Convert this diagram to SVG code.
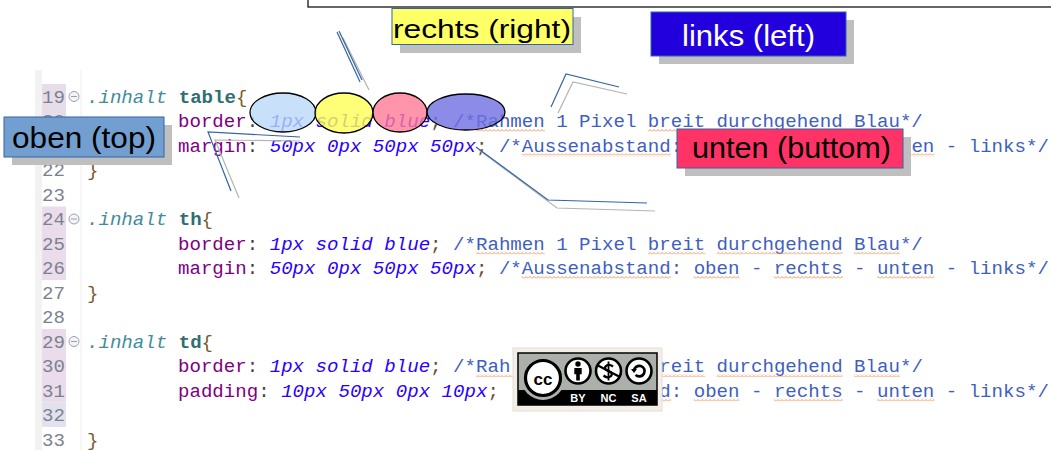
<svg xmlns="http://www.w3.org/2000/svg" width="1051" height="450" viewBox="0 0 1051 450">
<style>
.code{font-family:"Liberation Mono","DejaVu Sans Mono",monospace;font-size:19.1px}
.ln{fill:#7a8290;text-anchor:end}
.sel{fill:#3f8c9c;font-style:italic}
.tag{fill:#2f6f6f;font-weight:bold}
.br{fill:#7a5a2a}
.prop{fill:#7f007f}
.col{fill:#4a3a4a}
.val{fill:#2a00ff;font-style:italic}
.semi{fill:#6b4a2b}
.cmt{fill:#3f5fbf}
.sq{fill:url(#squig)}
.fold{fill:#f4f4f8;stroke:#9aa0b0;stroke-width:1}
.lbl{font-family:"Liberation Sans",Arial,sans-serif}
.shadow{fill:#bfbfbf}
.box{stroke:#3465a4;stroke-width:1}
.ell{stroke:#000;stroke-width:1.3;fill-opacity:0.8}
.cb{stroke:#3465a4;stroke-width:1.2;fill:none}
.cg{stroke:#b4b4b4;stroke-width:1.2;fill:none}
.ico{fill:#fff;stroke:#000;stroke-width:2.6}
.cct{font-family:"Liberation Sans",Arial,sans-serif;font-weight:bold;fill:#fff;font-size:11px;text-anchor:middle}
</style>
<defs>
<pattern id="squig" x="0" y="0" width="4" height="3" patternUnits="userSpaceOnUse">
<path d="M0 2.5 L2 0.5 L4 2.5" fill="none" stroke="#f08a4b" stroke-width="0.9"/>
</pattern>
</defs>
<rect x="0" y="0" width="1051" height="450" fill="#fff"/>

<g id="editor">
<rect x="35" y="70" width="7" height="380" fill="#f2f2f2"/>
<line x1="81" y1="70" x2="81" y2="450" stroke="#eeeeee" stroke-width="1"/>
<rect x="42" y="84" width="24" height="73.5" fill="#e6dcea"/>
<rect x="42" y="206.5" width="24" height="73.5" fill="#eadcea"/>
<rect x="42" y="329" width="24" height="73.5" fill="#eadcea"/>
<rect x="42" y="402.5" width="24" height="24.5" fill="#e2e2ee"/>
<g class="code ln">
<text x="65" y="102.5">19</text>
<text x="65" y="127">20</text>
<text x="65" y="176">22</text>
<text x="65" y="200.5">23</text>
<text x="65" y="225">24</text>
<text x="65" y="249.5">25</text>
<text x="65" y="274">26</text>
<text x="65" y="298.5">27</text>
<text x="65" y="323">28</text>
<text x="65" y="347.5">29</text>
<text x="65" y="372">30</text>
<text x="65" y="396.5">31</text>
<text x="65" y="421">32</text>
<text x="65" y="445.5">33</text>
</g>
<g>
<circle class="fold" cx="74" cy="96.5" r="5"/><line x1="71" y1="96.5" x2="77" y2="96.5" stroke="#9aa0b0"/>
<circle class="fold" cx="74" cy="219" r="5"/><line x1="71" y1="219" x2="77" y2="219" stroke="#9aa0b0"/>
<circle class="fold" cx="74" cy="341.5" r="5"/><line x1="71" y1="341.5" x2="77" y2="341.5" stroke="#9aa0b0"/>
</g>
<g class="code" xml:space="preserve">
<text x="87" y="102.5"><tspan class="sel">.inhalt</tspan> <tspan class="tag">table</tspan><tspan class="br">{</tspan></text>
<text x="178" y="127"><tspan class="prop">border</tspan><tspan class="col">:</tspan> <tspan class="val">1px solid blue</tspan><tspan class="semi">;</tspan> <tspan class="cmt">/*Rahmen 1 Pixel breit durchgehend Blau*/</tspan></text>
<text x="178" y="151.5"><tspan class="prop">margin</tspan><tspan class="col">:</tspan> <tspan class="val">50px 0px 50px 50px</tspan><tspan class="semi">;</tspan> <tspan class="cmt">/*Aussenabstand:</tspan></text>
<text x="911.4" y="151.5" class="cmt">en - links*/</text>
<text x="87" y="176" class="br">}</text>
<text x="87" y="225"><tspan class="sel">.inhalt</tspan> <tspan class="tag">th</tspan><tspan class="br">{</tspan></text>
<text x="178" y="249.5"><tspan class="prop">border</tspan><tspan class="col">:</tspan> <tspan class="val">1px solid blue</tspan><tspan class="semi">;</tspan> <tspan class="cmt">/*Rahmen 1 Pixel breit durchgehend Blau*/</tspan></text>
<text x="178" y="274"><tspan class="prop">margin</tspan><tspan class="col">:</tspan> <tspan class="val">50px 0px 50px 50px</tspan><tspan class="semi">;</tspan> <tspan class="cmt">/*Aussenabstand: oben - rechts - unten - links*/</tspan></text>
<text x="87" y="298.5" class="br">}</text>
<text x="87" y="347.5"><tspan class="sel">.inhalt</tspan> <tspan class="tag">td</tspan><tspan class="br">{</tspan></text>
<text x="178" y="372"><tspan class="prop">border</tspan><tspan class="col">:</tspan> <tspan class="val">1px solid blue</tspan><tspan class="semi">;</tspan> <tspan class="cmt">/*Rah</tspan></text>
<text x="659.3" y="372" class="cmt">reit durchgehend Blau*/</text>
<text x="178" y="396.5"><tspan class="prop">padding</tspan><tspan class="col">:</tspan> <tspan class="val">10px 50px 0px 10px</tspan><tspan class="semi">;</tspan></text>
<text x="659.3" y="396.5" class="cmt">d: oben - rechts - unten - links*/</text>
<text x="87" y="445.5" class="br">}</text>
</g>
<g id="squiggles">
<rect class="sq" x="476" y="129" width="68.8" height="3"/>
<rect class="sq" x="647.9" y="129" width="57.3" height="3"/>
<rect class="sq" x="716.6" y="129" width="126" height="3"/>
<rect class="sq" x="854.1" y="129" width="45.8" height="3"/>
<rect class="sq" x="521.8" y="153.5" width="149" height="3"/>
<rect class="sq" x="911.4" y="153.5" width="23" height="3"/>
<rect class="sq" x="476" y="251.5" width="68.8" height="3"/>
<rect class="sq" x="647.9" y="251.5" width="57.3" height="3"/>
<rect class="sq" x="716.6" y="251.5" width="126" height="3"/>
<rect class="sq" x="854.1" y="251.5" width="45.8" height="3"/>
<rect class="sq" x="521.8" y="276" width="149" height="3"/>
<rect class="sq" x="693.7" y="276" width="45.8" height="3"/>
<rect class="sq" x="773.9" y="276" width="68.8" height="3"/>
<rect class="sq" x="877.1" y="276" width="57.3" height="3"/>
<rect class="sq" x="476" y="374" width="37" height="3"/>
<rect class="sq" x="660" y="374" width="45.2" height="3"/>
<rect class="sq" x="716.6" y="374" width="126" height="3"/>
<rect class="sq" x="854.1" y="374" width="45.8" height="3"/>
<rect class="sq" x="660" y="398.5" width="11" height="3"/>
<rect class="sq" x="693.7" y="398.5" width="45.8" height="3"/>
<rect class="sq" x="773.9" y="398.5" width="68.8" height="3"/>
<rect class="sq" x="877.1" y="398.5" width="57.3" height="3"/>
</g>
</g>

<rect id="top-frame" x="308" y="-5" width="760" height="12" fill="#fff" stroke="#000" stroke-width="1.2"/>

<g id="ellipses">
<ellipse class="ell" cx="283" cy="112.5" rx="33" ry="19.5" fill="#bad8f9"/>
<ellipse class="ell" cx="344" cy="113" rx="29" ry="20" fill="#ffff55"/>
<ellipse class="ell" cx="400" cy="112.5" rx="27" ry="19.5" fill="#ff7995"/>
<ellipse class="ell" cx="466" cy="112" rx="39" ry="18" fill="#6f6fe2"/>
</g>

<g id="connectors">
<line class="cg" x1="343" y1="38" x2="369" y2="90"/>
<line class="cb" x1="337" y1="32" x2="360" y2="82"/>
<line class="cb" x1="339" y1="31" x2="362" y2="80"/>
<polyline class="cg" points="558,113 573,82 627,94"/>
<polyline class="cb" points="551,107 566,74 619,87"/>
<polyline class="cg" points="239,198 215,140 300,141"/>
<polyline class="cb" points="231,191 208,132 300,137"/>
<polyline class="cg" points="479,150 557,208 655,211"/>
<polyline class="cb" points="476,147 548,200 647,203"/>
</g>

<g id="label-rechts" class="lbl">
<rect class="shadow" x="400" y="17" width="181" height="36"/>
<rect class="box" x="392" y="8.5" width="181" height="36" fill="#ffff66"/>
<text x="393" y="38" font-size="26" fill="#000" textLength="178" lengthAdjust="spacingAndGlyphs">rechts (right)</text>
</g>
<g id="label-links" class="lbl">
<rect class="shadow" x="659" y="20" width="195" height="44"/>
<rect class="box" x="651" y="12" width="195" height="44" fill="#2200dd"/>
<text x="682" y="46" font-size="30" fill="#fff" textLength="133" lengthAdjust="spacingAndGlyphs">links (left)</text>
</g>
<g id="label-oben" class="lbl">
<rect class="shadow" x="12" y="125" width="160" height="40"/>
<rect class="box" x="4" y="117" width="160" height="40" fill="#729fcf"/>
<text x="12" y="148" font-size="29" fill="#000" textLength="144" lengthAdjust="spacingAndGlyphs">oben (top)</text>
</g>
<g id="label-unten" class="lbl">
<rect class="shadow" x="685" y="137" width="226" height="39"/>
<rect class="box" x="677" y="129" width="226" height="39" fill="#ff3366"/>
<text x="692" y="158" font-size="30" fill="#000" textLength="199" lengthAdjust="spacingAndGlyphs">unten (buttom)</text>
</g>

<g id="cc-logo">
<rect x="513" y="348" width="149" height="63" fill="#f3efe8" stroke="#e4ded4" stroke-width="1"/>
<rect x="518" y="353" width="139" height="52" fill="#abb1aa" stroke="#000" stroke-width="1.5"/>
<rect x="518" y="390" width="139" height="15" fill="#000"/>
<circle cx="543" cy="378" r="22" fill="#abb1aa"/>
<circle cx="543" cy="378" r="17.5" fill="#fff" stroke="#000" stroke-width="3.2"/>
<text x="543" y="384.5" font-family="Liberation Sans,Arial,sans-serif" font-weight="bold" font-size="17" text-anchor="middle" fill="#000">cc</text>
<circle class="ico" cx="578" cy="371" r="12.5"/>
<circle cx="578" cy="364" r="2.7" fill="#000"/>
<path d="M574.3 368 h7.4 v6.3 h-1.9 v6.3 h-3.6 v-6.3 h-1.9 z" fill="#000"/>
<circle class="ico" cx="608.5" cy="371" r="12.5"/>
<path d="M613 366.5 q-4.5 -3.2 -7.5 0 q-2 3 3 4.5 q5 1.8 2.5 5 q-3 3 -7.5 -0.5" fill="none" stroke="#000" stroke-width="2.3"/>
<line x1="608.5" y1="361.5" x2="608.5" y2="380.5" stroke="#000" stroke-width="1.8"/>
<line x1="597" y1="365" x2="620" y2="377" stroke="#000" stroke-width="2.2"/>
<circle class="ico" cx="639" cy="371" r="12.5"/>
<path d="M634 371 a5.3 5.3 0 1 1 1.6 3.9" fill="none" stroke="#000" stroke-width="2.7"/>
<path d="M631 369 l3 4 l3 -4 z" fill="#000"/>
<text class="cct" x="578" y="402">BY</text>
<text class="cct" x="608.5" y="402">NC</text>
<text class="cct" x="639" y="402">SA</text>
</g>
</svg>
